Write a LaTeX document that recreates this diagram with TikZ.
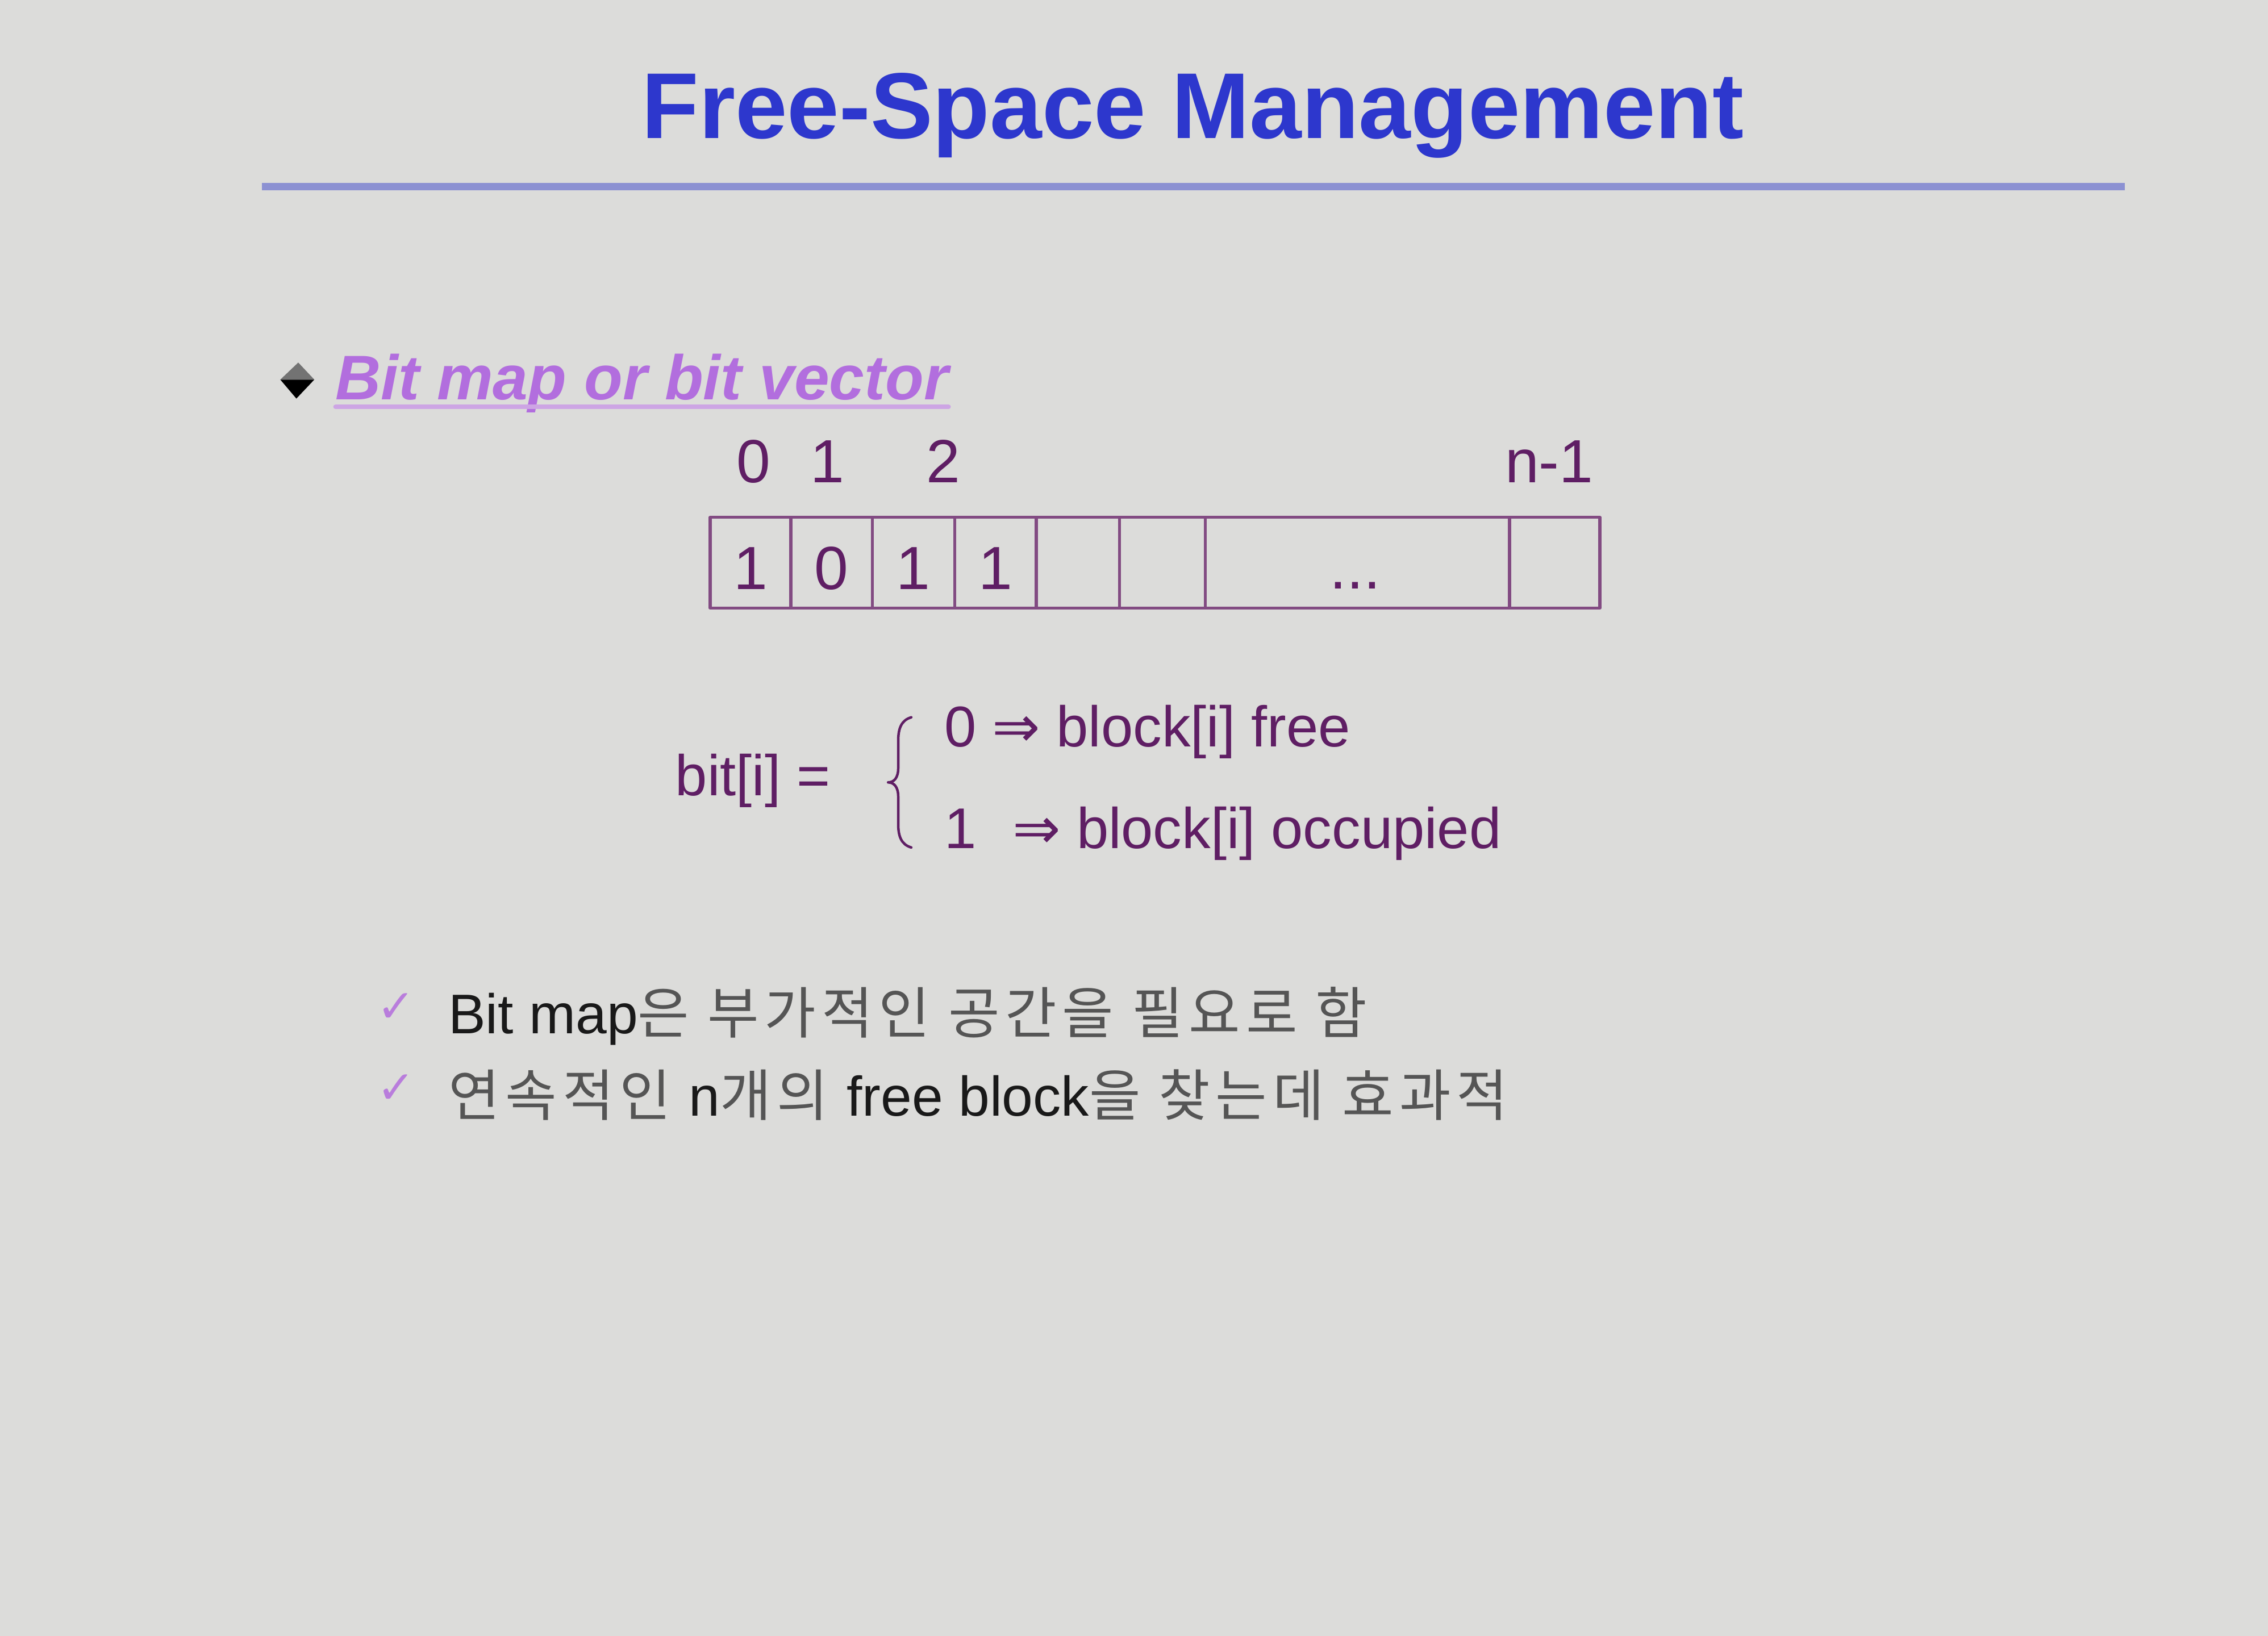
\documentclass[tikz,border=0pt]{standalone}
\usepackage{fontspec}
\setmainfont{Liberation Sans}
\newfontfamily\korfont[LetterSpace=10]{Noto Sans CJK KR}
\newfontfamily\symfont{DejaVu Sans}
\definecolor{slidebg}{RGB}{220,220,218}
\definecolor{titleblue}{RGB}{45,55,205}
\definecolor{rulecolor}{RGB}{140,145,210}
\definecolor{headpurple}{RGB}{178,110,222}
\definecolor{ulinepurple}{RGB}{205,165,228}
\definecolor{darkpurple}{RGB}{95,30,100}
\definecolor{cellpurple}{RGB}{130,75,130}
\definecolor{checkpurple}{RGB}{185,125,220}
\definecolor{korgray}{RGB}{85,85,85}
\definecolor{textblack}{RGB}{25,25,25}
\newcommand{\kortext}[1]{{\korfont\color{korgray}#1}}
\begin{document}
\begin{tikzpicture}[line join=round, line cap=round,
  every node/.style={inner sep=0pt, outer sep=0pt},
  bitnum/.style={text=darkpurple, font=\fontsize{12}{14}\selectfont},
  eqtext/.style={text=darkpurple, font=\fontsize{11.3}{14}\selectfont, anchor=base west},
  note/.style={text=textblack, font=\fontsize{11}{13}\selectfont, anchor=base west},
  tick/.style={text=checkpurple, font=\symfont\fontsize{9}{11}\selectfont},
  cellline/.style={draw=cellpurple, line width=0.6pt}]
\def\ytop{-3.577} \def\ybot{-4.205} \def\ybit{-3.93}
\fill[slidebg] (0,0) rectangle (15.68,-11.312);
\useasboundingbox (0,0) rectangle (15.68,-11.312);
\node[anchor=base, text=titleblue, font=\bfseries\fontsize{18.4}{22}\selectfont] (title) at (8.246,-0.955) {Free-Space Management};
\coordinate (ruleL) at (1.81,-1.29);
\coordinate (ruleR) at (14.69,-1.29);
\draw[rulecolor, line width=1.4pt, line cap=butt] (ruleL) -- (ruleR);
\fill[black!55] (1.938,-2.625) -- (2.062,-2.507) -- (2.173,-2.625) -- cycle;
\fill[black] (1.938,-2.625) -- (2.173,-2.625) -- (2.049,-2.756) -- cycle;
\node[anchor=base west, text=headpurple, font=\bfseries\itshape\fontsize{12.4}{15}\selectfont] (head) at (2.32,-2.764) {Bit map or bit vector};
\draw[ulinepurple, line width=0.9pt] ([yshift=-0.05cm]head.base west) -- ([yshift=-0.05cm]head.base east);
\foreach \x/\t [count=\i] in {5.21/0, 5.72/1, 6.52/2, 10.71/n-1}
  \node[bitnum] (idx\i) at (\x,-3.19) {\t};
\foreach \xa/\xb/\t [count=\i] in {4.91/5.467/1, 5.467/6.03/0, 6.03/6.60/1, 6.60/7.165/1, 7.165/7.74/{}, 7.74/8.334/{}, 8.334/10.436/{}, 10.436/11.06/{}}
  {\draw[cellline] (\xa,\ytop) rectangle (\xb,\ybot);
   \node[bitnum] (cell\i) at ({(\xa+\xb)/2},\ybit) {\t};}
\node[bitnum, anchor=base] (dots) at (9.37,-4.07) {...};
\node[eqtext] (bit) at (4.67,-5.50) {bit[i] =};
\draw[darkpurple, line width=0.5pt] (6.30,-4.96) .. controls (6.23,-4.98) and (6.21,-5.04) .. (6.21,-5.12) -- (6.21,-5.31)
  .. controls (6.21,-5.38) and (6.18,-5.41) .. (6.14,-5.41) .. controls (6.18,-5.41) and (6.21,-5.44) .. (6.21,-5.51)
  -- (6.21,-5.70) .. controls (6.21,-5.78) and (6.23,-5.84) .. (6.30,-5.86);
\node[eqtext] (free) at (6.53,-5.165) {0 {\symfont ⇒} block[i] free};
\node[eqtext] (occ) at (6.53,-5.865) {1\hspace{0.35em} {\symfont ⇒} block[i] occupied};
\node[tick] (tick1) at (2.74,-6.97) {✓};
\node[note] (note1) at (3.10,-7.148) {Bit map\kortext{은 부가적인 공간을 필요로 함}};
\node[tick] (tick2) at (2.74,-7.53) {✓};
\node[note] (note2) at (3.10,-7.718) {\kortext{연속적인 }n\kortext{개의 }free block\kortext{을 찾는데 효과적}};
\end{tikzpicture}
\end{document}
